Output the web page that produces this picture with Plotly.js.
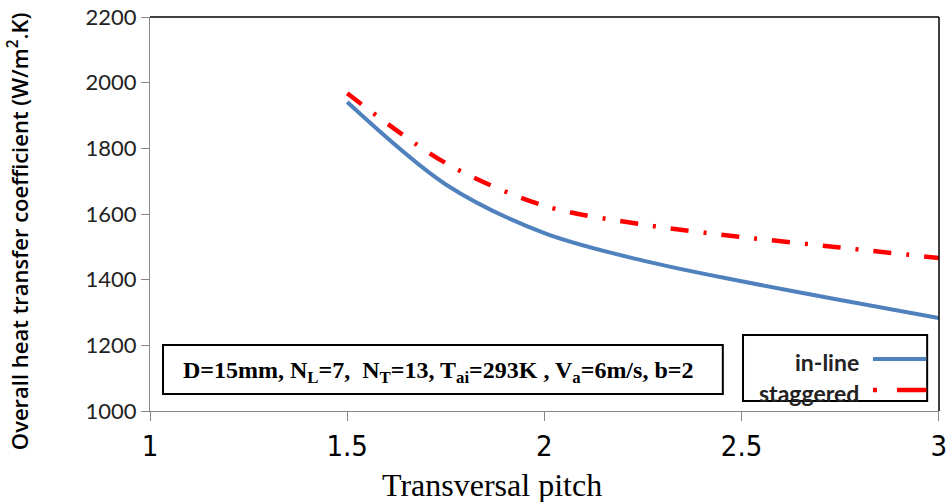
<!DOCTYPE html>
<html>
<head>
<meta charset="utf-8">
<script src="https://cdn.plot.ly/plotly-3.0.1.min.js"></script>
<style>
  html, body { margin: 0; padding: 0; background: #ffffff; }
  #chart { width: 947px; height: 502px; }
</style>
</head>
<body>
<div id="chart"></div>
<script>
// ---- Data ----
const pitch = [1.5, 1.75, 2.0, 2.25, 2.5, 2.75, 3.0];
const inlineU = [1941, 1690, 1542, 1458, 1395, 1338, 1283];
const staggeredU = [1968, 1755, 1625, 1568, 1530, 1498, 1466];
const seriesNames = ["in-line", "staggered"];
const xTicks = [1, 1.5, 2, 2.5, 3];
const yTicks = [1000, 1200, 1400, 1600, 1800, 2000, 2200];
const xTitle = "Transversal pitch";
const yTitle = "Overall heat transfer coefficient (W/m<sup>2</sup>.K)";
const noteText = "D=15mm, N<sub>L</sub>=7,  N<sub>T</sub>=13, T<sub>ai</sub>=293K , V<sub>a</sub>=6m/s, b=2";

const blue = "#4F81BD";
const red = "#FF0000";
const redDash = "18px,15px,3px,15px";

const traces = [
  {
    x: pitch, y: inlineU, name: seriesNames[0], type: "scatter", mode: "lines",
    line: { color: blue, width: 4, shape: "spline", smoothing: 0.9 },
    showlegend: false, hoverinfo: "skip"
  },
  {
    x: pitch, y: staggeredU, name: seriesNames[1], type: "scatter", mode: "lines",
    line: { color: red, width: 4.5, shape: "spline", smoothing: 0.9, dash: redDash },
    showlegend: false, hoverinfo: "skip"
  }
];

const layout = {
  width: 947, height: 502,
  margin: { l: 150, r: 8, t: 17, b: 91 },
  paper_bgcolor: "#ffffff", plot_bgcolor: "#ffffff",
  showlegend: false,
  xaxis: {
    range: [1, 3.0005], tickvals: xTicks, ticktext: xTicks.map(String),
    showgrid: false, zeroline: false, automargin: false,
    ticklabeloverflow: "allow",
    showline: true, linecolor: "#868686", linewidth: 1,
    ticks: "outside", ticklen: 9, tickcolor: "#868686", tickwidth: 1,
    tickfont: { family: "Liberation Sans Narrow, DejaVu Sans Condensed, Arial Narrow, sans-serif", size: 29, color: "#000" }
  },
  yaxis: {
    range: [1000, 2200], tickvals: yTicks,
    showgrid: false, zeroline: false, automargin: false,
    showline: true, linecolor: "#868686", linewidth: 1,
    ticks: "outside", ticklen: 8, tickcolor: "#868686", tickwidth: 1,
    tickfont: { family: "Lato, Open Sans, sans-serif", size: 22, color: "#222" }
  },
  shapes: [
    // top and right plot border
    { type: "line", xref: "paper", yref: "paper", x0: 0, x1: 1, y0: 1, y1: 1, line: { color: "#000", width: 1.5 } },
    { type: "line", xref: "paper", yref: "paper", x0: 1, x1: 1, y0: 0, y1: 1, line: { color: "#000", width: 1.5 } },
    // note box
    { type: "rect", xref: "paper", yref: "paper", x0: 0.0165, x1: 0.726, y0: 0.043, y1: 0.1675,
      line: { color: "#000", width: 2 }, fillcolor: "rgba(0,0,0,0)", layer: "above" },
    // legend box
    { type: "rect", xref: "paper", yref: "paper", x0: 0.7516, x1: 0.985, y0: 0.0254, y1: 0.193,
      line: { color: "#000", width: 2 }, fillcolor: "rgba(0,0,0,0)", layer: "above" },
    // legend samples
    { type: "line", xref: "paper", yref: "paper", x0: 0.9163, x1: 0.984, y0: 0.132, y1: 0.132,
      line: { color: blue, width: 4 } },
    { type: "line", xref: "paper", yref: "paper", x0: 0.9163, x1: 0.984, y0: 0.0533, y1: 0.0533,
      line: { color: red, width: 4.5, dash: "4px,20px,30px,20px" } }
  ],
  annotations: [
    { xref: "paper", yref: "paper", x: -0.167, y: 0.457, xanchor: "center", yanchor: "middle",
      textangle: -90, text: yTitle, showarrow: false,
      font: { family: "Open Sans, Lato, sans-serif", size: 22, color: "#000", weight: 600 } },
    { xref: "paper", yref: "paper", x: 0.4335, y: -0.188, xanchor: "center", yanchor: "middle",
      text: xTitle, showarrow: false,
      font: { family: "Liberation Serif, Times New Roman, serif", size: 32, color: "#000" } },
    { xref: "paper", yref: "paper", x: 0.365, y: 0.099, xanchor: "center", yanchor: "middle",
      text: "<b>" + noteText + "</b>", showarrow: false,
      font: { family: "Liberation Serif, Times New Roman, serif", size: 24, color: "#000" } },
    { xref: "paper", yref: "paper", x: 0.901, y: 0.1244, xanchor: "right", yanchor: "middle",
      text: "<b>" + seriesNames[0] + "</b>", showarrow: false,
      font: { family: "Lato, Open Sans, sans-serif", size: 23, color: "#222" } },
    { xref: "paper", yref: "paper", x: 0.901, y: 0.045, xanchor: "right", yanchor: "middle",
      text: "<b>" + seriesNames[1] + "</b>", showarrow: false,
      font: { family: "Lato, Open Sans, sans-serif", size: 23, color: "#222" } }
  ]
};

Plotly.newPlot("chart", traces, layout, { staticPlot: true, displayModeBar: false });
</script>
</body>
</html>
